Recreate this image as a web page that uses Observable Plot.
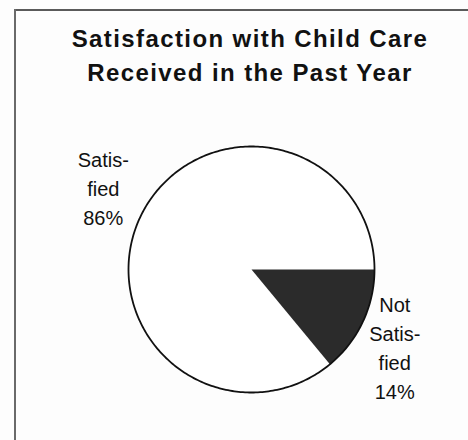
<!DOCTYPE html>
<html><head><meta charset="utf-8">
<script src="https://cdn.jsdelivr.net/npm/d3@7"></script>
<script src="https://cdn.jsdelivr.net/npm/@observablehq/plot@0.6"></script>
<style>
html,body{margin:0;padding:0;background:#fff;}
#wrap{position:relative;width:468px;height:440px;overflow:hidden;background:#fdfdfd;font-family:"Liberation Sans",Arial,Helvetica,sans-serif;}
#frameTop{position:absolute;left:14px;top:9px;width:454px;height:2px;background:#5a5a5a;}
#frameLeft{position:absolute;left:14px;top:9px;width:2px;height:431px;background:#6a6a6a;}
#title{position:absolute;left:0;top:22px;width:468px;text-align:center;font-weight:bold;font-size:24px;line-height:34px;letter-spacing:1.4px;color:#111;}
#title div{padding-left:32px;}
#chart{position:absolute;left:0;top:100px;}
</style>
</head><body>
<div id="wrap">
  <div id="frameTop"></div>
  <div id="frameLeft"></div>
  <div id="title"><div>Satisfaction with Child Care</div><div>Received in the Past Year</div></div>
  <div id="chart"></div>
</div>
<script>
const categories = ["Satisfied", "Not Satisfied"];
const percents = [86, 14];
const labelTexts = ["Satis-\nfied", "Not\nSatis-\nfied"];
const sliceColors = ["#ffffff", "#2b2b2b"];

// pie layout: slices run counter-clockwise starting at 3 o'clock
const arcs = d3.pie().sort(null).startAngle(2.5 * Math.PI).endAngle(0.5 * Math.PI)(percents);

const slicePts = [];
arcs.forEach((a, k) => {
  const cat = categories[k];
  slicePts.push({cat, x: 0, y: 0});
  const n = Math.max(2, Math.ceil(Math.abs(a.endAngle - a.startAngle) / (Math.PI / 180)));
  for (let i = 0; i <= n; i++) {
    const t = a.startAngle + (a.endAngle - a.startAngle) * i / n;
    slicePts.push({cat, x: Math.sin(t), y: Math.cos(t)});
  }
  slicePts.push({cat, x: 0, y: 0});
});

const rim = [];
for (let i = 0; i <= 360; i++) {
  const t = i * Math.PI / 180;
  rim.push({x: Math.sin(t), y: Math.cos(t)});
}

const labels = arcs.map((a, k) => {
  const m = (a.startAngle + a.endAngle) / 2;
  return {cat: categories[k], x: 1.35 * Math.sin(m), y: 1.35 * Math.cos(m), text: labelTexts[k] + "\n" + percents[k] + "%"};
});

const chart = Plot.plot({
  width: 468,
  height: 340,
  margin: 0,
  style: {background: "transparent", fontFamily: "'Liberation Sans', Arial, sans-serif"},
  x: {domain: [-1, 1], range: [128, 374], axis: null},
  y: {domain: [-1, 1], range: [292, 46], axis: null},
  color: {domain: categories, range: sliceColors},
  marks: [
    Plot.line(slicePts, {x: "x", y: "y", z: "cat", fill: "cat", stroke: "none", curve: "linear"}),
    Plot.line(rim, {x: "x", y: "y", stroke: "#111", strokeWidth: 1.8, fill: "none"}),
    Plot.text(labels.filter(d => d.cat === categories[0]), {x: "x", y: "y", text: "text", fontSize: 20, lineHeight: 1.45, dy: -12, dx: 2, fill: "#111", lineAnchor: "middle"}),
    Plot.text(labels.filter(d => d.cat === categories[1]), {x: "x", y: "y", text: "text", fontSize: 20, lineHeight: 1.45, dy: 6, dx: -7, fill: "#111", lineAnchor: "middle"})
  ]
});
document.getElementById("chart").appendChild(chart);
</script>
</body></html>
